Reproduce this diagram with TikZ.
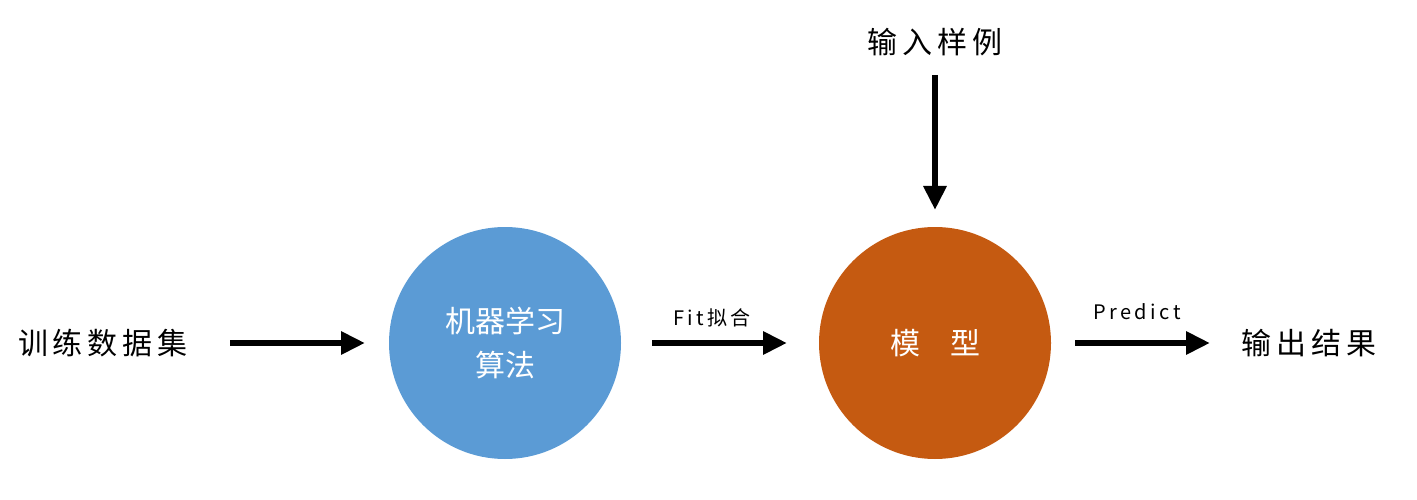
\documentclass[tikz,border=0pt]{standalone}
\usepackage{fontspec}
\setmainfont{Noto Sans CJK SC}
\usetikzlibrary{arrows.meta}
\definecolor{cblue}{HTML}{5B9BD5}
\definecolor{corange}{HTML}{C55A11}
\begin{document}
\begin{tikzpicture}[x=1pt,y=-1pt,
  lbl/.style={font=\fontsize{30}{34}\selectfont,inner sep=0pt},
  small/.style={font=\fontsize{20}{24}\selectfont,inner sep=0pt},
  circ/.style={circle,minimum size=232pt,inner sep=0pt,text=white,font=\fontsize{30}{44}\selectfont,align=center},
  arr/.style={line width=6pt,-{Triangle[length=24pt,width=22pt]}}]
\useasboundingbox (0,0) rectangle (1417,500);
\node[lbl] (train) at (103,343) {训\,练\,数\,据\,集};
\node[circ,fill=cblue] (ml) at (505,343) {机器学习\\算法};
\node[circ,fill=corange] (model) at (935,343) {模\quad 型};
\node[lbl] (out) at (1309,343) {输\,出\,结\,果};
\node[lbl] (in) at (935,42) {输\,入\,样\,例};
\coordinate (a1s) at (230,343); \coordinate (a1e) at (365,343);
\coordinate (a2s) at (652,343); \coordinate (a2e) at (787,343);
\coordinate (a3s) at (1075,343); \coordinate (a3e) at (1210,343);
\coordinate (a4s) at (935,75); \coordinate (a4e) at (935,210);
\draw[arr] (a1s) -- (a1e);
\draw[arr] (a2s) -- (a2e);
\draw[arr] (a3s) -- (a3e);
\draw[arr] (a4s) -- (a4e);
\node[small] (fit) at (712,318) {F\,i\,t\,拟\,合};
\node[small] (pred) at (1137,312) {P\,r\,e\,d\,i\,c\,t};
\end{tikzpicture}
\end{document}
